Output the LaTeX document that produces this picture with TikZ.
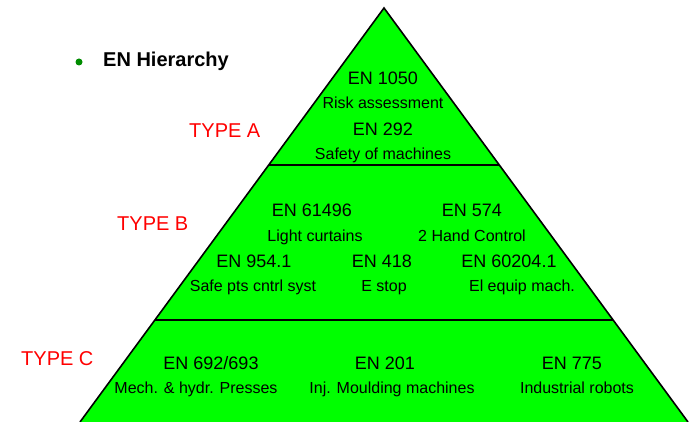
\documentclass[tikz,border=0pt]{standalone}
\usepackage{fontspec}
\setmainfont{Liberation Sans}
\usepackage{tikz}
\usetikzlibrary{calc}

\definecolor{pyrgreen}{RGB}{0,255,0}
\definecolor{dotgreen}{RGB}{0,140,0}
\definecolor{typered}{RGB}{255,0,0}

\tikzset{
    enno/.style={anchor=base,inner sep=0pt,font=\fontsize{18}{20}\selectfont},
    entxt/.style={anchor=base,inner sep=0pt,font=\fontsize{16}{18}\selectfont},
    typelbl/.style={anchor=base west,inner sep=0pt,text=typered,font=\fontsize{20}{22}\selectfont}
}

\begin{document}
\begin{tikzpicture}[x=1pt,y=-1pt]
    \useasboundingbox (0,0) rectangle (695,422);
    \fill[white] (0,0) rectangle (695,422);

    \coordinate (top) at (384,8);
    \coordinate (bl) at (80,422);
    \coordinate (br) at (688,422);

    \fill[pyrgreen] (top) -- (bl) -- (br) -- cycle;
    \draw[line width=1.6pt,line join=miter] (bl) -- (top) -- (br);

    \draw[line width=1.6pt] ($(top)!0.379!(bl)$) -- ($(top)!0.379!(br)$);
    \draw[line width=1.6pt] ($(top)!0.754!(bl)$) -- ($(top)!0.754!(br)$);

    % title
    \fill[dotgreen] (79,62) circle (3.5pt);
    \node[anchor=base west,inner sep=0pt,font=\fontsize{20}{22}\selectfont\bfseries] (title) at (103,67) {EN Hierarchy};

    \node[typelbl] (typeA) at (189,138) {TYPE A};
    \node[typelbl] (typeB) at (117,230) {TYPE B};
    \node[typelbl] (typeC) at (21,365) {TYPE C};

    % type A
    \node[enno] (a1) at (383,85) {EN 1050};
    \node[entxt] (a1t) at (383,109) {Risk assessment};
    \node[enno] (a2) at (383,136) {EN 292};
    \node[entxt] (a2t) at (383,160) {Safety of machines};

    % type B
    \node[enno] (b1) at (312,216) {EN 61496};
    \node[entxt] (b1t) at (315,241) {Light curtains};
    \node[enno] (b2) at (472,216) {EN 574};
    \node[entxt] (b2t) at (472,241) {2 Hand Control};
    \node[enno] (b3) at (254,267) {EN 954.1};
    \node[entxt] (b3t) at (253,291) {Safe pts cntrl syst};
    \node[enno] (b4) at (382,267) {EN 418};
    \node[entxt] (b4t) at (384,291) {E stop};
    \node[enno] (b5) at (509,267) {EN 60204.1};
    \node[entxt] (b5t) at (522,291) {El equip mach.};

    % type C
    \node[enno] (c1) at (211,369) {EN 692/693};
    \node[entxt] (c1t) at (196,393) {Mech. \& hydr. Presses};
    \node[enno] (c2) at (385,369) {EN 201};
    \node[entxt] (c2t) at (392,393) {Inj. Moulding machines};
    \node[enno] (c3) at (572,369) {EN 775};
    \node[entxt] (c3t) at (577,393) {Industrial robots};
\end{tikzpicture}
\end{document}
